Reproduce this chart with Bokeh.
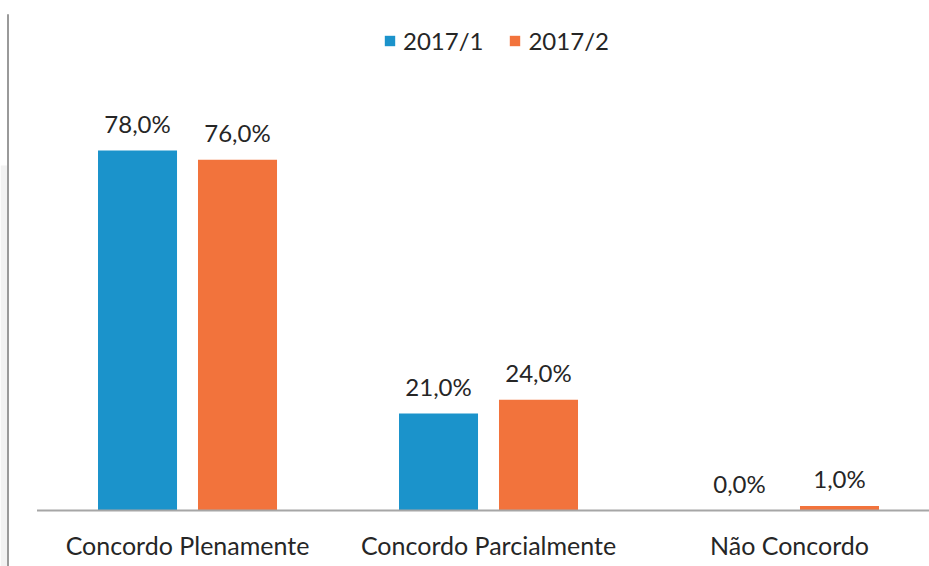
from bokeh.plotting import figure
from bokeh.models import ColumnDataSource, Range1d, Legend, LegendItem, BoxAnnotation
from bokeh.transform import dodge
from bokeh.core.properties import value
from bokeh.embed import file_html
from bokeh.resources import INLINE

categories = ["Concordo Plenamente", "Concordo Parcialmente", "Não Concordo"]
series_names = ["2017/1", "2017/2"]
s2017_1 = [78.0, 21.0, 0.0]
s2017_2 = [76.0, 24.0, 1.0]

BLUE = "#1B93CB"
ORANGE = "#F2733C"
FONT = "Lato"

idx = list(range(len(categories)))
src = ColumnDataSource(dict(
    x=idx,
    cat=categories,
    a=s2017_1,
    b=s2017_2,
    a_lbl=[f"{v:.1f}%".replace(".", ",") for v in s2017_1],
    b_lbl=[f"{v:.1f}%".replace(".", ",") for v in s2017_2],
))

W, H = 929, 566
p = figure(width=W, height=H, output_backend="svg", toolbar_location=None,
           x_range=Range1d(-0.6213, 2.4651), y_range=Range1d(-12.133, 110.5),
           min_border=0, min_border_left=0, min_border_right=0,
           min_border_top=0, min_border_bottom=0)
p.xaxis.visible = False
p.yaxis.visible = False
p.grid.visible = False
p.outline_line_color = None
p.background_fill_color = "white"
p.border_fill_color = "white"

# faint page shadow and left rule
p.add_layout(BoxAnnotation(left=0, right=7, left_units="screen", right_units="screen",
                           top=74.75, fill_color="#f2f2f2", fill_alpha=1, line_color=None))
p.add_layout(BoxAnnotation(left=6.5, right=8.5, left_units="screen", right_units="screen",
                           top=107.5, fill_color="#9a9a9a", fill_alpha=1, line_color=None))

off = 0.1661
bw = 0.2625
ra = p.vbar(x=dodge("x", -off, range=p.x_range), top="a", width=bw, source=src,
            fill_color=BLUE, line_color=None)
rb = p.vbar(x=dodge("x", off, range=p.x_range), top="b", width=bw, source=src,
            fill_color=ORANGE, line_color=None)

# baseline
p.segment(x0=[-0.5], y0=[0], x1=[2.5], y1=[0], line_color="#a6a6a6", line_width=2)

# value labels
p.text(x=dodge("x", -off, range=p.x_range), y="a", text="a_lbl", source=src,
       text_font=value(FONT), text_font_size="24px", text_color="#262626",
       text_align="center", text_baseline="alphabetic", y_offset=-27)
p.text(x=dodge("x", off, range=p.x_range), y="b", text="b_lbl", source=src,
       text_font=value(FONT), text_font_size="24px", text_color="#262626",
       text_align="center", text_baseline="alphabetic", y_offset=-27)

# category labels
p.text(x="x", y=0, text="cat", source=src,
       text_font=value(FONT), text_font_size="25px", text_color="#262626",
       text_align="center", text_baseline="alphabetic", y_offset=34)

legend = Legend(items=[LegendItem(label=series_names[0], renderers=[ra]),
                       LegendItem(label=series_names[1], renderers=[rb])],
                orientation="horizontal", location=(383, 511),
                glyph_width=13, glyph_height=13, label_standoff=7, spacing=25,
                padding=0, margin=0, border_line_color=None,
                background_fill_alpha=0,
                label_text_font=FONT, label_text_font_size="24px",
                label_text_color="#262626")
p.add_layout(legend, "center")

open("out.html", "w").write(file_html(p, INLINE))
